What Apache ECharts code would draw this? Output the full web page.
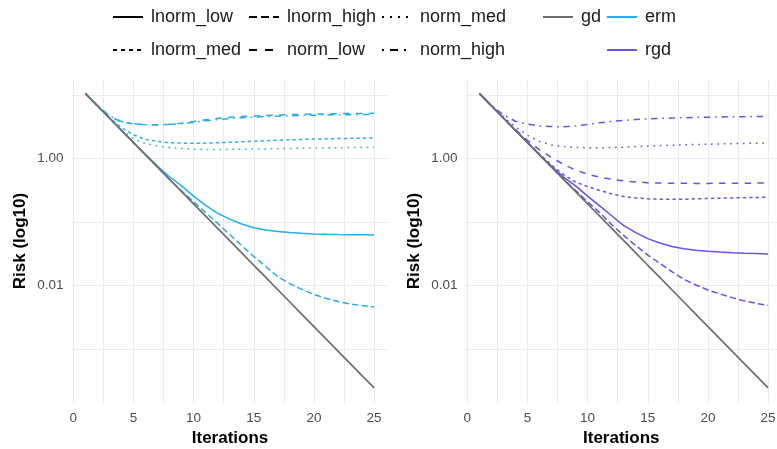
<!DOCTYPE html>
<html>
<head>
<meta charset="utf-8">
<script src="https://cdn.jsdelivr.net/npm/echarts@6/dist/echarts.min.js"></script>
<style>
  html, body { margin: 0; padding: 0; background: #ffffff; }
  #chart { width: 777px; height: 449px; }
</style>
</head>
<body>
<div id="chart"></div>
<script>
// Iteration index shared by every curve
const iterations = [1, 2, 3, 4, 5, 6, 7, 8, 9, 10, 11, 12, 13, 14, 15, 16, 17, 18, 19, 20, 21, 22, 23, 24, 25];

// Plain gradient descent (same in both panels)
const gdRisk = [10.62, 6.81, 4.37, 2.79, 1.79, 1.148, 0.736, 0.472, 0.302, 0.194, 0.1242, 0.0796, 0.0511, 0.0327, 0.0209, 0.01343, 0.00861, 0.00552, 0.00353, 0.00226, 0.001452, 0.000931, 0.000597, 0.000382, 0.000245];

// ERM risk per noise setting
const ermLnormLow  = [10.62, 6.81, 4.37, 2.80, 1.80, 1.161, 0.767, 0.519, 0.372, 0.257, 0.184, 0.138, 0.1114, 0.0933, 0.0813, 0.0750, 0.0711, 0.0684, 0.0667, 0.0652, 0.0644, 0.0638, 0.0634, 0.0631, 0.0628];
const ermLnormMed  = [10.62, 6.84, 4.42, 3.09, 2.37, 2.02, 1.862, 1.791, 1.758, 1.750, 1.758, 1.778, 1.811, 1.845, 1.884, 1.919, 1.950, 1.982, 2.009, 2.032, 2.056, 2.075, 2.089, 2.104, 2.113];
const ermLnormHigh = [10.62, 6.81, 4.37, 2.79, 1.79, 1.148, 0.736, 0.475, 0.313, 0.209, 0.1413, 0.0955, 0.0638, 0.0427, 0.0288, 0.0200, 0.0138, 0.01072, 0.00871, 0.00724, 0.00631, 0.00562, 0.00513, 0.00484, 0.00462];
const ermNormLow   = [10.62, 6.92, 4.68, 3.80, 3.53, 3.41, 3.41, 3.49, 3.63, 3.85, 4.09, 4.32, 4.49, 4.62, 4.71, 4.80, 4.88, 4.94, 5.00, 5.05, 5.08, 5.12, 5.14, 5.16, 5.18];
const ermNormMed   = [10.62, 6.84, 4.42, 2.85, 2.04, 1.738, 1.585, 1.496, 1.445, 1.413, 1.400, 1.396, 1.400, 1.406, 1.416, 1.426, 1.435, 1.449, 1.459, 1.469, 1.479, 1.486, 1.496, 1.503, 1.507];
const ermNormHigh  = [10.62, 6.92, 4.73, 3.85, 3.55, 3.43, 3.40, 3.47, 3.56, 3.73, 3.94, 4.12, 4.29, 4.42, 4.52, 4.60, 4.68, 4.74, 4.80, 4.84, 4.88, 4.91, 4.93, 4.95, 4.97];

// RGD risk per noise setting
const rgdLnormLow  = [10.62, 6.81, 4.37, 2.80, 1.80, 1.156, 0.759, 0.513, 0.372, 0.257, 0.180, 0.1259, 0.0881, 0.0684, 0.0550, 0.0468, 0.0412, 0.0380, 0.0361, 0.0347, 0.0337, 0.0330, 0.0324, 0.0320, 0.0316];
const rgdLnormMed  = [10.62, 6.81, 4.38, 2.82, 1.82, 1.189, 0.794, 0.562, 0.427, 0.363, 0.316, 0.279, 0.254, 0.240, 0.233, 0.230, 0.229, 0.230, 0.233, 0.236, 0.238, 0.241, 0.243, 0.245, 0.247];
const rgdLnormHigh = [10.62, 6.81, 4.37, 2.79, 1.79, 1.148, 0.736, 0.473, 0.316, 0.209, 0.1413, 0.0912, 0.0617, 0.0427, 0.0302, 0.0224, 0.0166, 0.0126, 0.01023, 0.00851, 0.00741, 0.00646, 0.00575, 0.00525, 0.00490];
const rgdNormLow   = [10.62, 6.84, 4.42, 2.88, 1.95, 1.380, 1.047, 0.813, 0.661, 0.569, 0.513, 0.473, 0.447, 0.429, 0.419, 0.413, 0.410, 0.409, 0.408, 0.408, 0.409, 0.410, 0.411, 0.412, 0.412];
const rgdNormMed   = [10.62, 6.84, 4.57, 3.16, 2.34, 1.862, 1.641, 1.549, 1.507, 1.486, 1.486, 1.500, 1.521, 1.549, 1.578, 1.603, 1.629, 1.652, 1.671, 1.690, 1.706, 1.722, 1.738, 1.750, 1.762];
const rgdNormHigh  = [10.62, 6.92, 4.90, 3.89, 3.51, 3.27, 3.20, 3.18, 3.27, 3.47, 3.67, 3.87, 4.01, 4.13, 4.23, 4.30, 4.37, 4.42, 4.47, 4.51, 4.54, 4.57, 4.59, 4.61, 4.62];

// Noise settings (legend order) and axis tick labels
const noiseLevels = ['lnorm_low', 'lnorm_med', 'lnorm_high', 'norm_low', 'norm_med', 'norm_high'];
const xTickValues = [0, 5, 10, 15, 20, 25];
const yTickValues = [1, 0.01];
const yTickLabels = ['1.00', '0.01'];

// ---- styling ----
const FONT = '"Liberation Sans", Arial, Helvetica, sans-serif';
const COLORS = { gd: '#6e6e6e', erm: '#22b0f5', rgd: '#6a4dff' };
const LW = 1.5;
// dash patterns in units of line width (on, off, ...)
const DASH_UNITS = {
  lnorm_low: null,
  lnorm_med: [2, 2],
  lnorm_high: [4, 2],
  norm_low: [4, 4],
  norm_med: [1, 3],
  norm_high: [1, 3, 4, 3]
};
function dashFor(level, w) {
  const u = DASH_UNITS[level];
  return u ? u.map(function (d) { return d * w; }) : 'solid';
}
function pairs(values) {
  return iterations.map(function (t, i) { return [t, values[i]]; });
}

const ermByLevel = {
  lnorm_low: ermLnormLow, lnorm_med: ermLnormMed, lnorm_high: ermLnormHigh,
  norm_low: ermNormLow, norm_med: ermNormMed, norm_high: ermNormHigh
};
const rgdByLevel = {
  lnorm_low: rgdLnormLow, lnorm_med: rgdLnormMed, lnorm_high: rgdLnormHigh,
  norm_low: rgdNormLow, norm_med: rgdNormMed, norm_high: rgdNormHigh
};

const series = [];
[['erm', ermByLevel, 0], ['rgd', rgdByLevel, 1]].forEach(function (panel) {
  const method = panel[0], byLevel = panel[1], idx = panel[2];
  noiseLevels.forEach(function (level) {
    series.push({
      name: method,
      type: 'line',
      xAxisIndex: idx, yAxisIndex: idx,
      symbol: 'none',
      silent: true,
      lineStyle: { color: COLORS[method], width: LW, type: dashFor(level, 1.6), cap: 'butt' },
      itemStyle: { color: COLORS[method] },
      data: pairs(byLevel[level]),
      z: 2
    });
  });
  series.push({
    name: 'gd',
    type: 'line',
    xAxisIndex: idx, yAxisIndex: idx,
    symbol: 'none',
    silent: true,
    lineStyle: { color: COLORS.gd, width: 1.7 },
    itemStyle: { color: COLORS.gd },
    data: pairs(gdRisk),
    z: 3
  });
});

// Black key entries for the noise-setting legend
noiseLevels.forEach(function (level) {
  series.push({
    name: level,
    type: 'line',
    xAxisIndex: 0, yAxisIndex: 0,
    symbol: 'none',
    lineStyle: { color: '#000000', width: 2, type: dashFor(level, 2), cap: 'butt' },
    itemStyle: { color: '#000000' },
    data: []
  });
});

function legendColumn(left, names) {
  return {
    orient: 'vertical',
    left: left, top: 2,
    itemWidth: 30, itemHeight: 14, itemGap: 13,
    selectedMode: false,
    itemStyle: { opacity: 0 },
    lineStyle: { width: 2 },
    textStyle: { fontFamily: FONT, fontSize: 18, color: '#1a1a1a', lineHeight: 20, padding: [0, 0, 0, 3] },
    data: names
  };
}

const gridLine = { show: true, lineStyle: { color: '#ebebeb', width: 1 }, showMinLine: false, showMaxLine: false };

function xAxisFor(gridIndex, max) {
  return {
    type: 'value', gridIndex: gridIndex,
    min: -0.15, max: max,
    name: 'Iterations', nameLocation: 'middle', nameGap: 27,
    nameTextStyle: { fontFamily: FONT, fontSize: 17, fontWeight: 'bold', color: '#000000' },
    axisLine: { show: false }, axisTick: { show: false },
    axisLabel: {
      fontFamily: FONT, fontSize: 13.5, color: '#4d4d4d', margin: 8,
      showMinLabel: false, showMaxLabel: false,
      formatter: function (v) { return xTickValues.indexOf(v) >= 0 ? String(v) : ''; }
    },
    splitLine: gridLine,
    minorTick: { show: false, splitNumber: 2 },
    minorSplitLine: { show: true, lineStyle: { color: '#ebebeb', width: 1 } }
  };
}

function yAxisFor(gridIndex) {
  return {
    type: 'log', logBase: 10, gridIndex: gridIndex,
    min: 0.0001413, max: 18.0,
    name: 'Risk (log10)', nameLocation: 'middle', nameGap: 43,
    nameTextStyle: { fontFamily: FONT, fontSize: 17, fontWeight: 'bold', color: '#000000' },
    axisLine: { show: false }, axisTick: { show: false },
    axisLabel: {
      fontFamily: FONT, fontSize: 13.5, color: '#4d4d4d', margin: 8,
      showMinLabel: false, showMaxLabel: false,
      formatter: function (v) {
        for (let i = 0; i < yTickValues.length; i++) {
          if (Math.abs(Math.log10(v) - Math.log10(yTickValues[i])) < 1e-6) return yTickLabels[i];
        }
        return '';
      }
    },
    splitLine: gridLine
  };
}

const chart = echarts.init(document.getElementById('chart'), null, { renderer: 'canvas' });
chart.setOption({
  animation: false,
  backgroundColor: '#ffffff',
  legend: [
    legendColumn(107, ['lnorm_low', 'lnorm_med']),
    legendColumn(243, ['lnorm_high', 'norm_low']),
    legendColumn(376, ['norm_med', 'norm_high']),
    legendColumn(537, ['gd']),
    legendColumn(601, ['erm', 'rgd'])
  ],
  grid: [
    { left: 71.5, top: 79, width: 317, height: 324, containLabel: false, outerBoundsMode: 'none' },
    { left: 465.5, top: 79, width: 311.5, height: 324, containLabel: false, outerBoundsMode: 'none' }
  ],
  xAxis: [xAxisFor(0, 26.2), xAxisFor(1, 25.74)],
  yAxis: [yAxisFor(0), yAxisFor(1)],
  series: series
});
</script>
</body>
</html>
